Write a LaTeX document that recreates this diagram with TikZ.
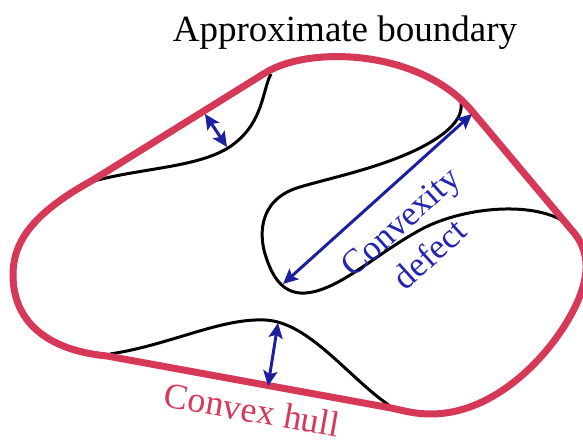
\documentclass[tikz,border=0pt]{standalone}
\usepackage{fontspec}
\setmainfont{Liberation Serif}
\usetikzlibrary{arrows.meta}
\definecolor{hullred}{RGB}{214,56,88}
\definecolor{defblue}{RGB}{28,32,158}
\definecolor{textblue}{RGB}{36,38,178}
\begin{document}
\begin{tikzpicture}[x=1pt,y=-1pt,
  hull/.style={draw=hullred, line width=7pt, line join=round},
  contour/.style={draw=black, line width=3pt},
  depth/.style={draw=defblue, line width=3pt,
    {Stealth[length=15pt,width=14pt,inset=3pt]}-{Stealth[length=15pt,width=14pt,inset=3pt]}},
  label/.style={inner sep=0pt}]
\useasboundingbox (0,0) rectangle (583,443);
% black approximate boundary pieces
\draw[contour] (271,74) .. controls (262,90) and (264,125) .. (228,148)
  .. controls (195,168) and (140,168) .. (90,182);
\draw[contour] (461,102) .. controls (463,115) and (455,130) .. (420,148)
  .. controls (380,168) and (330,178) .. (300,187)
  .. controls (255,200) and (260,240) .. (266,257)
  .. controls (275,285) and (290,300) .. (320,290)
  .. controls (350,280) and (380,252) .. (420,230)
  .. controls (460,208) and (530,200) .. (565,222);
\draw[contour] (110,354) .. controls (170,345) and (220,318) .. (265,320)
  .. controls (310,322) and (350,380) .. (393,408);
% convex hull
\draw[hull] (93,180) -- (265,73)
  .. controls (310,45) and (420,50) .. (471,110)
  -- (575,234)
  .. controls (592,256) and (590,285) .. (565,325)
  .. controls (540,365) and (490,414) .. (431,414)
  .. controls (415,414) and (405,411) .. (391,408)
  -- (107,356)
  .. controls (45,350) and (13,320) .. (13,275)
  .. controls (13,240) and (35,212) .. (93,180) -- cycle;
% arrow end points
\coordinate (a1s) at (205,114);
\coordinate (a1e) at (227,147);
\coordinate (a2s) at (472,114);
\coordinate (a2e) at (283,284);
\coordinate (a3s) at (278,323);
\coordinate (a3e) at (268,386);
\draw[depth] (a1s) -- (a1e);
\draw[depth] (a2s) -- (a2e);
\draw[depth] (a3s) -- (a3e);
% labels
\node[label, font=\fontsize{37}{44}\selectfont, anchor=base] (title) at (345,42) {Approximate boundary};
\node[label, text=hullred, font=\fontsize{36}{43}\selectfont, rotate=-10, anchor=base] (hulllabel) at (250,422) {Convex hull};
\node[label, text=textblue, font=\fontsize{35}{44}\selectfont, rotate=42, align=center] (deflabel) at (415,238) {Convexity\\defect};
\end{tikzpicture}
\end{document}
